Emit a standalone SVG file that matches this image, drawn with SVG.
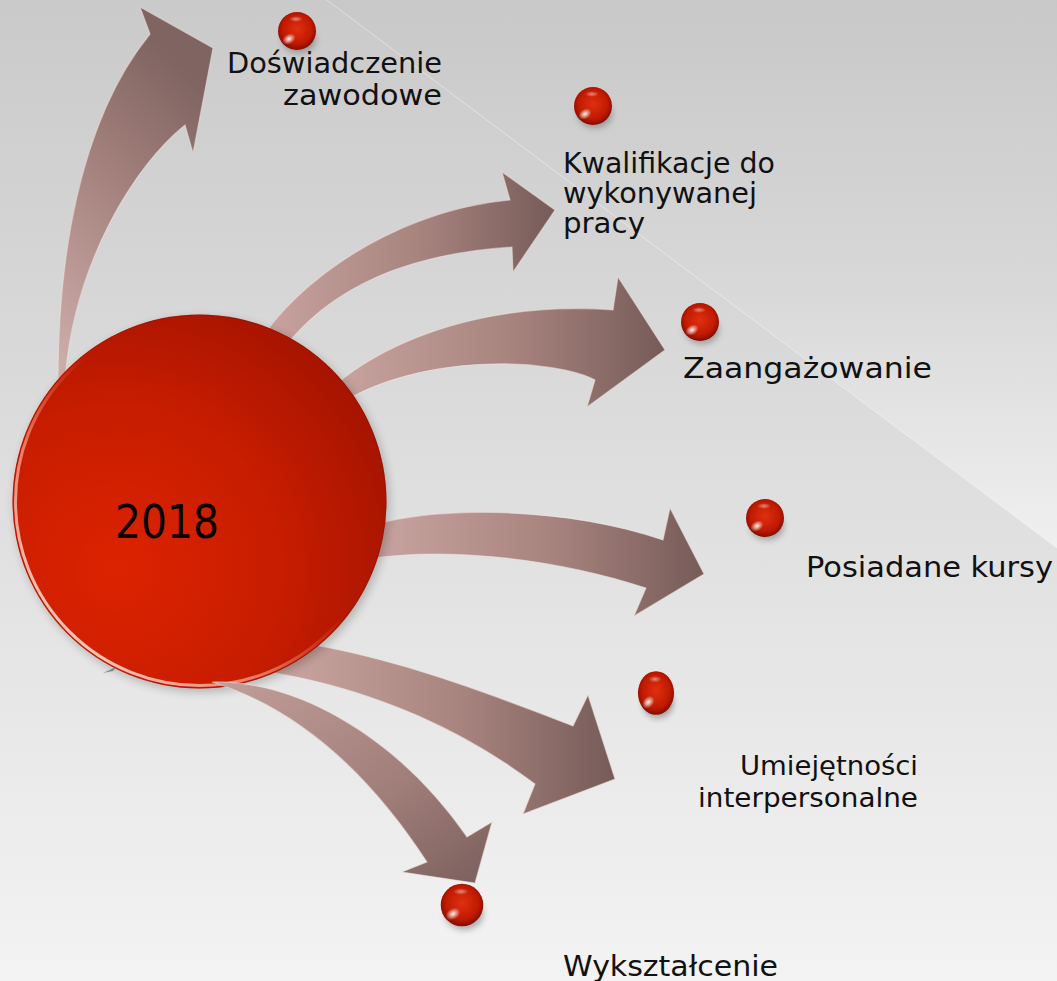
<svg xmlns="http://www.w3.org/2000/svg" width="1057" height="981" viewBox="0 0 1057 981">
<style>
.lbl{font-family:"DejaVu Sans","Liberation Sans",sans-serif;font-size:28px;fill:#111;}
.sm{font-size:26px;}
.yr{font-family:"DejaVu Sans","Liberation Sans",sans-serif;font-size:47px;fill:#0a0000;}
.arr{stroke:#f4e6e4;stroke-opacity:0.5;stroke-width:1.2;stroke-linejoin:miter;}
</style>
<defs>
<linearGradient id="bg" x1="0" y1="0" x2="0" y2="981" gradientUnits="userSpaceOnUse">
<stop offset="0" stop-color="#cacaca"/><stop offset="1" stop-color="#f3f3f3"/>
</linearGradient>
<linearGradient id="tri" x1="0" y1="0" x2="0" y2="548" gradientUnits="userSpaceOnUse">
<stop offset="0" stop-color="#c8c8c8"/><stop offset="0.5" stop-color="#d7d7d7"/><stop offset="1" stop-color="#f0f0f0"/>
</linearGradient>
<linearGradient id="aH" x1="0" y1="0" x2="1" y2="0">
<stop offset="0" stop-color="#cba6a2"/><stop offset="0.55" stop-color="#a8847f"/><stop offset="1" stop-color="#765b58"/>
</linearGradient>
<linearGradient id="aV" x1="0" y1="1" x2="0.4" y2="0">
<stop offset="0" stop-color="#cfb0ad"/><stop offset="0.6" stop-color="#a3807c"/><stop offset="1" stop-color="#7f6461"/>
</linearGradient>
<linearGradient id="aD" x1="0" y1="0" x2="1" y2="1">
<stop offset="0" stop-color="#c29e9a"/><stop offset="0.6" stop-color="#9f7d79"/><stop offset="1" stop-color="#7a5f5c"/>
</linearGradient>
<radialGradient id="big" cx="0.28" cy="0.68" r="0.95">
<stop offset="0" stop-color="#dc2300"/><stop offset="0.45" stop-color="#c81d00"/><stop offset="1" stop-color="#961000"/>
</radialGradient>
<linearGradient id="rim" x1="0.1" y1="0.9" x2="0.9" y2="0.1">
<stop offset="0" stop-color="#ffe0d8" stop-opacity="0.95"/><stop offset="0.3" stop-color="#ffb8a8" stop-opacity="0.6"/><stop offset="0.55" stop-color="#ff9070" stop-opacity="0"/><stop offset="1" stop-color="#ff9070" stop-opacity="0"/>
</linearGradient>
<radialGradient id="bead" cx="0.5" cy="0.45" r="0.55">
<stop offset="0" stop-color="#e03010"/><stop offset="0.7" stop-color="#c01a00"/><stop offset="1" stop-color="#850b00"/>
</radialGradient>
<radialGradient id="hl" cx="0.5" cy="0.5" r="0.5">
<stop offset="0" stop-color="#ffffff" stop-opacity="0.95"/><stop offset="1" stop-color="#ffffff" stop-opacity="0"/>
</radialGradient>
<filter id="blur" x="-50%" y="-50%" width="200%" height="200%"><feGaussianBlur stdDeviation="3"/></filter>
<filter id="blur2" x="-20%" y="-20%" width="140%" height="140%"><feGaussianBlur stdDeviation="5"/></filter>
<g id="beadShape">
<ellipse cx="2" cy="8" rx="17" ry="14" fill="#555" opacity="0.45" filter="url(#blur)"/>
<circle r="19" fill="url(#bead)"/>
<ellipse cx="-8" cy="8" rx="7" ry="5" fill="url(#hl)" transform="rotate(-30 -8 8)"/>
<ellipse cx="-1" cy="-12" rx="7" ry="3" fill="url(#hl)" opacity="0.5"/>
</g>
</defs>
<rect width="1057" height="981" fill="url(#bg)"/>
<polygon points="327,0 1057,0 1057,548" fill="url(#tri)"/>
<line x1="327" y1="0" x2="1057" y2="548" stroke="#ffffff" stroke-opacity="0.4" stroke-width="1"/>

<g id="connectors">
<path class="arr" fill="url(#aV)" d="M58,380 C58,270 76,125 150,34 L140,7 L213,48 L193,153 L185,125 C135,165 74,262 65,380 Z"/>
<path class="arr" fill="url(#aH)" d="M250,360 C275,300 380,212 510,200 L502,172 L555,210 L513,272 L512,247 C420,253 330,280 275,360 Z"/>
<path class="arr" fill="url(#aH)" d="M320,400 C370,345 480,300 613,310 L618,277 L665,350 L587,407 L595,380 C560,360 420,348 330,410 Z"/>
<path class="arr" fill="url(#aH)" d="M360,530 C420,505 560,505 663,540 L670,508 L704,574 L634,616 L646,588 C560,560 450,545 360,560 Z"/>
<path class="arr" fill="url(#aH)" d="M280,640 C380,652 480,690 573,726 L588,695 L615,779 L523,814 L535,784 C470,735 380,690 270,672 Z"/>
<polygon points="103,673 116,667 113,671" fill="#8d8f9c"/>
</g>

<g id="center">
<circle cx="202" cy="505" r="187" fill="#000" opacity="0.22" filter="url(#blur2)"/>
<circle cx="199.5" cy="501.5" r="187" fill="url(#big)"/>
<circle cx="199.5" cy="501.5" r="184" fill="none" stroke="url(#rim)" stroke-width="3"/>
<circle cx="199.5" cy="501.5" r="186.5" fill="none" stroke="#7a0c00" stroke-opacity="0.3" stroke-width="1"/>
<text class="yr" x="115" y="538" textLength="104" lengthAdjust="spacingAndGlyphs">2018</text>
</g>

<g id="connector6">
<path class="arr" fill="url(#aD)" d="M212,682 C300,680 400,740 467,837 L492,822 L475,883 L402,872 L427,862 C380,790 310,712 212,682 Z"/>
</g>

<g id="n1">
<use href="#beadShape" x="297" y="31"/>
<text class="lbl" x="227" y="73" textLength="215" lengthAdjust="spacingAndGlyphs">Doświadczenie</text>
<text class="lbl" x="283" y="105" textLength="159" lengthAdjust="spacingAndGlyphs">zawodowe</text>
</g>
<g id="n2">
<use href="#beadShape" x="593" y="106"/>
<text class="lbl" x="563" y="173" textLength="212" lengthAdjust="spacingAndGlyphs">Kwalifikacje do</text>
<text class="lbl" x="563" y="203" textLength="194" lengthAdjust="spacingAndGlyphs">wykonywanej</text>
<text class="lbl" x="563" y="233" textLength="82" lengthAdjust="spacingAndGlyphs">pracy</text>
</g>
<g id="n3">
<use href="#beadShape" x="700" y="322"/>
<text class="lbl" x="683" y="378" textLength="249" lengthAdjust="spacingAndGlyphs">Zaangażowanie</text>
</g>
<g id="n4">
<use href="#beadShape" x="765" y="518"/>
<text class="lbl" x="806" y="577" textLength="247" lengthAdjust="spacingAndGlyphs">Posiadane kursy</text>
</g>
<g id="n5">
<use href="#beadShape" transform="translate(656 693) scale(0.95 1.15)"/>
<text class="lbl sm" x="740" y="775" textLength="178" lengthAdjust="spacingAndGlyphs">Umiejętności</text>
<text class="lbl sm" x="698" y="807" textLength="220" lengthAdjust="spacingAndGlyphs">interpersonalne</text>
</g>
<g id="n6">
<use href="#beadShape" transform="translate(462 905) scale(1.12)"/>
<text class="lbl" x="563" y="976" textLength="215" lengthAdjust="spacingAndGlyphs">Wykształcenie</text>
</g>
</svg>
